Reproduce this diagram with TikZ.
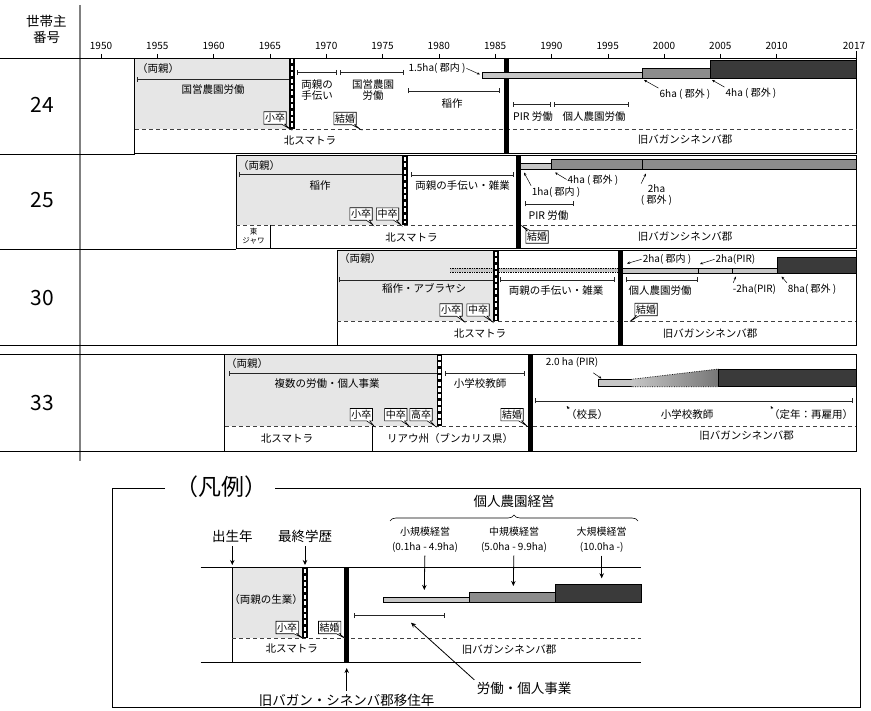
\documentclass[tikz,border=0pt]{standalone}
\usepackage{fontspec}
\setmainfont{Noto Sans CJK JP}
\usetikzlibrary{arrows.meta,shapes.callouts,decorations.pathreplacing}

\definecolor{haS}{HTML}{C6C6C6}
\definecolor{haM}{HTML}{8C8C8C}
\definecolor{haL}{HTML}{3A3A3A}
\definecolor{oya}{HTML}{E6E6E6}

% year -> x position
\pgfmathdeclarefunction{yr}{1}{\pgfmathparse{101+11.26*(#1-1950)}}

\tikzset{
  txt/.style={font=\fontsize{10.5}{11}\selectfont, inner sep=0pt},
  tsmall/.style={font=\fontsize{10}{10.5}\selectfont, inner sep=0pt},
  tbig/.style={font=\fontsize{13.5}{14}\selectfont, inner sep=0pt},
  yrlbl/.style={font=\fontsize{10}{10}\selectfont, inner sep=0pt},
  num/.style={font=\fontsize{21}{22}\selectfont, inner sep=0pt},
  wline/.style={line width=0.8pt},
  dline/.style={dash pattern=on 4pt off 3pt, line width=0.7pt, black!75},
  kikan/.style={{Bar[width=5pt]}-{Bar[width=5pt]}, line width=0.7pt, black!85},
  kikanL/.style={{Bar[width=5pt]}-, line width=0.7pt, black!85},
  ijuu/.style={line width=5pt},
  ptr/.style={-{Stealth[length=3pt,width=2.6pt]}, line width=0.5pt, shorten <=1pt},
  ptrL/.style={-{Stealth[length=5pt,width=4.5pt]}, line width=0.8pt, shorten <=3pt},
  kbox/.style={rectangle callout, draw, fill=white, line width=0.6pt,
    inner xsep=1.2pt, inner ysep=1.6pt, font=\fontsize{10}{10.5}\selectfont,
    callout pointer width=3pt},
}

% dashed school bar: x, top, bottom
\newcommand{\gakureki}[3]{%
  \fill (#1-2.8,#2) rectangle (#1+2.8,#3);
  \draw[white, line width=2.2pt, dash pattern=on 4pt off 2.4pt] (#1,#2+1.5) -- (#1,#3-1.5);
}

\begin{document}
\begin{tikzpicture}[x=1pt,y=-1pt]
\useasboundingbox (0,0) rectangle (871,711);

% header
\node[tbig] (hd1) at (46.5,21) {世帯主};
\node[tbig] (hd2) at (46.5,37) {番号};
\foreach \y in {1950,1955,...,2010}{
  \node[yrlbl] (y\y) at ({yr(\y)},45.5) {\y};
  \draw ({yr(\y)},54) -- ({yr(\y)},58);
}
\node[yrlbl] (y2017) at (854,45.5) {2017};
\draw[wline] (856,51) -- (856,58);
\draw[gray, line width=1.2pt] (80,5) -- (80,461);
\draw[wline] (0,58) -- (856,58);

% row lines on the left
\draw[wline] (0,154) -- (135,154);
\draw[wline] (0,249.5) -- (236,249.5);
\draw[wline] (0,345.5) -- (337.5,345.5);
\draw[wline] (0,354.5) -- (225,354.5);
\draw[wline] (0,451.5) -- (225,451.5);

% ---------- 24 ----------
\node[num] (r24) at (42,105) {24};
\fill[oya] ({yr(1953)},58) rectangle (292,129);
\draw[wline] ({yr(1953)},58) rectangle (856,153.5);
\draw[dline] ({yr(1953)},129) -- (856,129);
\node[txt, anchor=west] (o24) at (137,69) {（両親）};
\draw[kikanL] (137,79.5) -- (290,79.5);
\node[txt] (w24a) at (213,90) {国営農園労働};
\node[kbox, callout absolute pointer={(290,129)}] (s24) at (275,118) {小卒};
\gakureki{292}{58}{129}
\draw[kikan] (297,72.5) -- (337,72.5);
\draw[kikan] (340,72.5) -- (404,72.5);
\node[txt, align=center] (w24b) at (317,90) {両親の\\手伝い};
\node[txt, align=center] (w24c) at (373,90) {国営農園\\労働};
\node[kbox, callout absolute pointer={(360,129)}] (m24) at (345,118.5) {結婚};
\draw[kikan] (408,91) -- (500,91);
\node[txt] (w24d) at (452,104) {稲作};
\draw[ijuu] (506.5,58) -- (506.5,153.5);
\draw[fill=haS] (482,72) rectangle (642,78);
\draw[fill=haM] (642,68) rectangle (710,78);
\draw[fill=haL] (710,60.5) rectangle (856,78);
\node[tsmall] (h24a) at (437,68) {1.5ha(\ 郡内\ )};
\node[tsmall] (h24b) at (685,94) {6ha\ (\ 郡外\ )};
\node[tsmall] (h24c) at (751,93) {4ha\ (\ 郡外\ )};
\coordinate (b24a) at (480,74.5);
\coordinate (b24b) at (644,80);
\coordinate (b24c) at (712,80);
\draw[ptr] (h24a.east) -- (b24a);
\draw[ptr] (h24b.north west) -- (b24b);
\draw[ptr] (h24c.north west) -- (b24c);
\draw[kikan] (513,104.5) -- (551,104.5);
\draw[kikan] (554,104.5) -- (629,104.5);
\node[txt] (w24e) at (533,117) {PIR 労働};
\node[txt] (w24f) at (594,117) {個人農園労働};
\node[txt] (n24) at (310,141) {北スマトラ};
\node[txt] (k24) at (685,140) {旧バガンシネンバ郡};

% ---------- 25 ----------
\node[num] (r25) at (42,200) {25};
\fill[oya] ({yr(1962)},155.5) rectangle (405,225);
\draw[wline] ({yr(1962)},155.5) rectangle (856,248.5);
\draw[dline] ({yr(1962)},225) -- (856,225);
\node[txt, anchor=west] (o25) at (238,166) {（両親）};
\draw[kikanL] (238.5,174.5) -- (403,174.5);
\node[txt] (w25a) at (320,186) {稲作};
\node[kbox, callout absolute pointer={(373,225)}] (s25a) at (361,214) {小卒};
\node[kbox, callout absolute pointer={(401,225)}] (s25b) at (387.5,214) {中卒};
\gakureki{405}{155.5}{225}
\draw[kikan] (411,175) -- (514,175);
\node[txt] (w25b) at (462.5,185.5) {両親の手伝い・雑業};
\draw[ijuu] (518,155.5) -- (518,248.5);
\draw[fill=haS] (520.5,163.5) rectangle (551.5,169);
\draw[fill=haM] (551.5,159.5) rectangle (642,169);
\draw[fill=haM] (642,159.5) rectangle (856,169);
\node[tsmall] (h25a) at (556,192) {1ha(\ 郡内\ )};
\node[tsmall] (h25b) at (593,180) {4ha\ (\ 郡外\ )};
\node[tsmall, align=center] (h25c) at (656.5,195) {2ha\\(\ 郡外\ )};
\coordinate (b25a) at (524,172.5);
\coordinate (b25b) at (555,172.5);
\coordinate (b25c) at (646,173.5);
\draw[ptr] (h25a.north west) -- (b25a);
\draw[ptr] (h25b.west) -- (b25b);
\draw[ptr] (h25c.north west) -- (b25c);
\draw[kikan] (524.5,204) -- (573.5,204);
\node[txt] (w25c) at (548.5,216) {PIR 労働};
\node[kbox, callout absolute pointer={(522,226)}] (m25) at (537,237) {結婚};
\draw[wline] (270.5,225) -- (270.5,248.5);
\node[font=\fontsize{7.5}{9}\selectfont, inner sep=0pt, align=center] (e25) at (253.5,236) {東\\ジャワ};
\node[txt] (n25) at (411.5,237.5) {北スマトラ};
\node[txt] (k25) at (685,237) {旧バガンシネンバ郡};

% ---------- 30 ----------
\node[num] (r30) at (42,298) {30};
\fill[oya] ({yr(1971)},250.5) rectangle (494,321.5);
\fill[haS] (450,268) rectangle (619,272.5);
\draw[densely dotted, line width=0.7pt] (450,268) -- (619,268) (450,272.5) -- (619,272.5);
\draw[wline] ({yr(1971)},250.5) rectangle (856,345.5);
\draw[dline] ({yr(1971)},321.5) -- (856,321.5);
\node[txt, anchor=west] (o30) at (339,258.5) {（両親）};
\draw[kikanL] (339,280) -- (493,280);
\node[txt] (w30a) at (424,288.5) {稲作・アブラヤシ};
\node[kbox, callout absolute pointer={(464,321.5)}] (s30a) at (451,310) {小卒};
\node[kbox, callout absolute pointer={(492,321.5)}] (s30b) at (478,310) {中卒};
\gakureki{496}{250.5}{321.5}
\draw[kikan] (500,280) -- (615,280);
\node[txt] (w30b) at (556,291) {両親の手伝い・雑業};
\draw[ijuu] (620,250.5) -- (620,345.5);
\draw[fill=haS] (622,268) rectangle (698.5,273.5);
\draw[fill=haS] (698.5,268) rectangle (732.5,273.5);
\draw[fill=haS] (732.5,268) rectangle (777,273.5);
\draw[fill=haL] (777,257) rectangle (856,273.5);
\node[tsmall] (h30a) at (667,259) {2ha(\ 郡内\ )};
\node[tsmall] (h30b) at (735.5,259) {2ha(PIR)};
\node[tsmall] (h30c) at (754.5,289) {-2ha(PIR)};
\node[tsmall] (h30d) at (812,289) {8ha(\ 郡外\ )};
\coordinate (b30a) at (627,263.5);
\coordinate (b30b) at (700,264);
\coordinate (b30c) at (736,276.5);
\coordinate (b30d) at (781.5,276.5);
\draw[ptr] (h30a.west) -- (b30a);
\draw[ptr] (h30b.west) -- (b30b);
\draw[ptr] (h30c.north west) -- (b30c);
\draw[ptr] (h30d.north west) -- (b30d);
\draw[kikan] (626,280) -- (697.5,280);
\node[txt] (w30c) at (660,290.5) {個人農園労働};
\node[kbox, callout absolute pointer={(630,321.5)}] (m30) at (646,309.5) {結婚};
\node[txt] (n30) at (480,333.5) {北スマトラ};
\node[txt] (k30) at (710,333.5) {旧バガンシネンバ郡};

% ---------- 33 ----------
\node[num] (r33) at (42,403) {33};
\fill[oya] ({yr(1961)},354.5) rectangle (437,426);
\draw[wline] ({yr(1961)},354.5) rectangle (856,451.5);
\draw[dline] ({yr(1961)},426) -- (856,426);
\node[txt, anchor=west] (o33) at (226,363.5) {（両親）};
\draw[kikanL] (229,373.5) -- (437,373.5);
\node[txt] (w33a) at (327,384) {複数の労働・個人事業};
\node[kbox, callout absolute pointer={(374,426)}] (s33a) at (361.3,414.7) {小卒};
\node[kbox, callout absolute pointer={(409,426)}] (s33b) at (395.8,414.7) {中卒};
\node[kbox, callout absolute pointer={(435,426)}] (s33c) at (421,414.7) {高卒};
\gakureki{439.5}{354.5}{426}
\draw[kikan] (445,373.5) -- (524.5,373.5);
\node[txt] (w33b) at (480,384) {小学校教師};
\node[kbox, callout absolute pointer={(527,426)}] (m33) at (512,414.7) {結婚};
\draw[ijuu] (530,354.5) -- (530,451.5);
\node[tsmall] (h33a) at (572,362) {2.0 ha (PIR)};
\coordinate (b33a) at (601.5,378.5);
\draw[ptr] (h33a.south east) ++(-6,5) -- (b33a);
\draw[fill=haS] (597.7,379.3) rectangle (631.7,386.7);
\shade[left color=haS, right color=haM!85!black] (631.7,379.3) -- (718.3,369) -- (718.3,386.7) -- (631.7,386.7) -- cycle;
\draw[densely dotted, line width=0.7pt] (631.7,379.3) -- (718.3,369) (631.7,386.7) -- (718.3,386.7);
\draw[fill=haL] (718.3,369) rectangle (856,386.7);
\draw[kikan] (535,401) -- (852.5,401);
\node[txt] (w33c) at (687,415) {小学校教師};
\node[txt] (h33b) at (587,415) {（校長）};
\node[txt] (h33c) at (811,415) {（定年：再雇用）};
\coordinate (b33b) at (566.7,406);
\coordinate (b33c) at (770.7,406);
\draw[ptr] (h33b.north west) ++(4,0) -- (b33b);
\draw[ptr] (h33c.north west) ++(4,0) -- (b33c);
\draw[wline] (372.3,426) -- (372.3,451.5);
\node[txt] (n33) at (287,438.5) {北スマトラ};
\node[txt] (r33b) at (450,438.5) {リアウ州（ブンカリス県）};
\node[txt] (k33) at (746.5,435.5) {旧バガンシネンバ郡};

% ---------- legend ----------
\draw[wline] (165,488) -- (112,488) -- (112,707) -- (860,707) -- (860,488) -- (275,488);
\node[font=\fontsize{23}{24}\selectfont, inner sep=0pt] (hanrei) at (221,487) {（凡例）};
\fill[oya] (232.3,567.7) rectangle (303,638.3);
\draw[wline] (200.7,567.7) -- (640.7,567.7);
\draw[wline] (200.7,662.7) -- (640.7,662.7);
\draw[wline] (232.3,567.7) -- (232.3,662.7);
\draw[dline] (232.3,638.3) -- (640.7,638.3);
\gakureki{305}{567.7}{638.3}
\draw[ijuu] (346.7,567.7) -- (346.7,662.7);
\node[txt] (lg1) at (266,600) {（両親の生業）};
\node[kbox, callout absolute pointer={(303,638.3)}] (lgs) at (287.2,627.5) {小卒};
\node[kbox, callout absolute pointer={(345,638.3)}] (lgm) at (329.7,627.5) {結婚};
\node[txt] (lgn) at (291.7,649) {北スマトラ};
\node[txt] (lgk) at (509,650) {旧バガンシネンバ郡};
\draw[fill=haS] (383.3,596.7) rectangle (469,601.7);
\draw[fill=haM] (469,591.7) rectangle (555,601.7);
\draw[fill=haL] (555,584.3) rectangle (640.7,601.7);
\draw[kikan, line width=0.6pt] (354.3,615.7) -- (444.3,615.7);

\node[tbig] (lgb) at (232.3,536.7) {出生年};
\node[tbig] (lgg) at (305,536.7) {最終学歴};
\node[tbig] (lgi) at (346.7,700) {旧バガン・シネンバ郡移住年};
\node[tbig] (lgw) at (524,688.3) {労働・個人事業};
\coordinate (ab) at (232.3,565);
\coordinate (ag) at (305,565);
\coordinate (ai) at (346.7,668);
\coordinate (aw) at (411,622.7);
\draw[ptrL] (lgb) -- (ab);
\draw[ptrL] (lgg) -- (ag);
\draw[ptrL] (lgi) -- (ai);
\draw[ptrL] (lgw.north west) -- (aw);

\node[tbig] (lgp) at (514,501.7) {個人農園経営};
\draw[decorate, decoration={brace, amplitude=6pt}, line width=0.6pt] (390,521) -- (638,521);
\node[tsmall] (lgs1) at (425,531.7) {小規模経営};
\node[tsmall] (lgs2) at (425,547.3) {(0.1ha - 4.9ha)};
\node[tsmall] (lgm1) at (514,531.7) {中規模経営};
\node[tsmall] (lgm2) at (514,547.3) {(5.0ha - 9.9ha)};
\node[tsmall] (lgl1) at (601.7,531.7) {大規模経営};
\node[tsmall] (lgl2) at (601.7,547.3) {(10.0ha -)};
\coordinate (as) at (424.3,590);
\coordinate (am) at (513.3,586);
\coordinate (al) at (601.7,578.3);
\draw[ptrL] (lgs2) -- (as);
\draw[ptrL] (lgm2) -- (am);
\draw[ptrL] (lgl2) -- (al);
\end{tikzpicture}
\end{document}
